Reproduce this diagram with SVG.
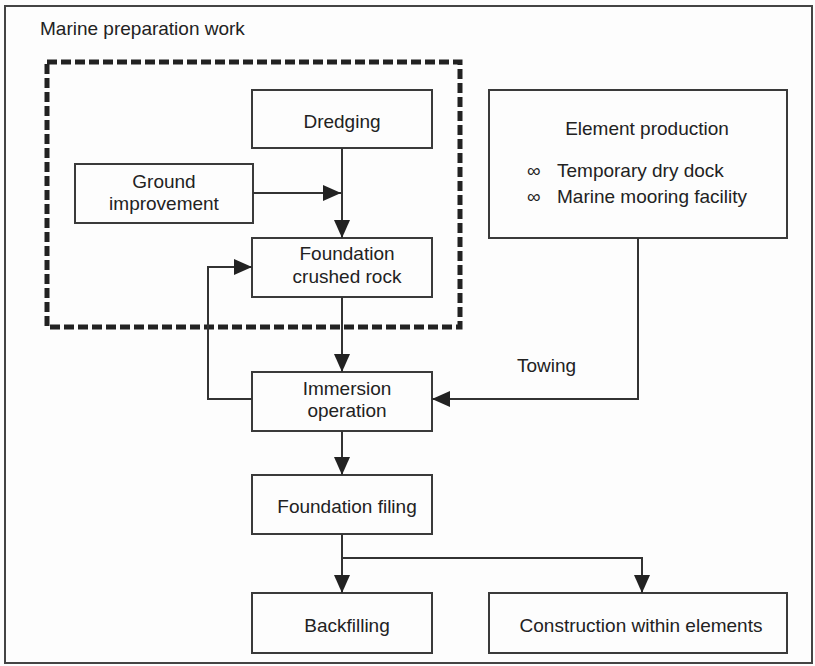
<svg xmlns="http://www.w3.org/2000/svg" width="815" height="666" viewBox="0 0 815 666">
<defs>
<style>
.box{fill:none;stroke:#3a3a3a;stroke-width:2}
.t{font-family:"Liberation Sans",Arial,sans-serif;font-size:19px;fill:#222}
.c{text-anchor:middle}
.ln{fill:none;stroke:#333;stroke-width:2}
</style>
<marker id="ah" viewBox="0 0 18 16" refX="18" refY="8" markerWidth="18" markerHeight="16" orient="auto" markerUnits="userSpaceOnUse">
<path d="M0,0 L18,8 L0,16 z" fill="#222"/>
</marker>
</defs>
<rect x="0" y="0" width="815" height="666" fill="#fdfdfd"/>
<rect x="5" y="6" width="807" height="657" fill="none" stroke="#444" stroke-width="2"/>
<text class="t" x="40" y="35">Marine preparation work</text>
<rect id="marine-group" x="47" y="62" width="413" height="265" fill="none" stroke="#222" stroke-width="5" stroke-dasharray="10 4"/>

<g id="dredging"><rect class="box" x="252" y="90" width="180" height="58"/><text class="t c" x="342" y="128">Dredging</text></g>
<g id="ground"><rect class="box" x="75" y="164" width="178" height="59"/><text class="t c" x="164" y="188">Ground</text><text class="t c" x="164" y="210">improvement</text></g>
<g id="foundation-rock"><rect class="box" x="252" y="238" width="180" height="59"/><text class="t c" x="347" y="260">Foundation</text><text class="t c" x="347" y="283">crushed rock</text></g>
<g id="immersion"><rect class="box" x="252" y="372" width="180" height="59"/><text class="t c" x="347" y="395">Immersion</text><text class="t c" x="347" y="417">operation</text></g>
<g id="filing"><rect class="box" x="252" y="475" width="180" height="59"/><text class="t c" x="347" y="513">Foundation filing</text></g>
<g id="backfilling"><rect class="box" x="252" y="593" width="180" height="60"/><text class="t c" x="347" y="632">Backfilling</text></g>
<g id="construction"><rect class="box" x="489" y="593" width="298" height="60"/><text class="t c" x="641" y="632">Construction within elements</text></g>
<g id="element"><rect class="box" x="489" y="90" width="298" height="148"/>
<text class="t c" x="647" y="135">Element production</text>
<text class="t" x="527" y="177" font-size="14">∞</text><text class="t" x="557" y="177">Temporary dry dock</text>
<text class="t" x="527" y="203" font-size="14">∞</text><text class="t" x="557" y="203">Marine mooring facility</text>
</g>

<g id="connectors">
<path class="ln" d="M342,148 V238" marker-end="url(#ah)"/>
<path class="ln" d="M253,193 H341" marker-end="url(#ah)"/>
<path class="ln" d="M342,297 V372" marker-end="url(#ah)"/>
<path class="ln" d="M252,399 H208 V267 H252" marker-end="url(#ah)"/>
<path class="ln" d="M638,238 V399 H432" marker-end="url(#ah)"/>
<path class="ln" d="M342,431 V475" marker-end="url(#ah)"/>
<path class="ln" d="M342,534 V593" marker-end="url(#ah)"/>
<path class="ln" d="M342,558 H642 V593" marker-end="url(#ah)"/>
<text class="t" x="517" y="372">Towing</text>
</g>
</svg>
